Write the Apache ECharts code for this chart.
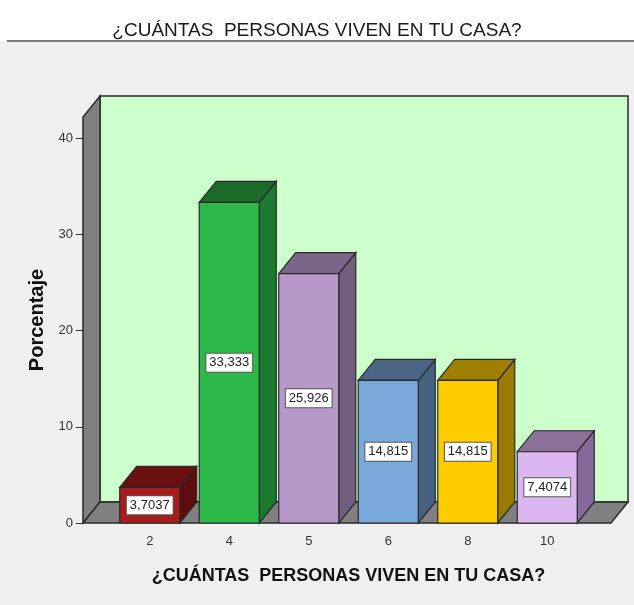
<!DOCTYPE html>
<html>
<head>
<meta charset="utf-8">
<script src="https://cdn.jsdelivr.net/npm/echarts@6/dist/echarts.min.js"></script>
<style>
  html, body { margin: 0; padding: 0; background: #fff; }
  #main { width: 634px; height: 605px; }
</style>
</head>
<body>
<div id="main"></div>
<script>
// datos
var categories = ["2", "4", "5", "6", "8", "10"];
var percentages = [3.7037, 33.333, 25.926, 14.815, 14.815, 7.4074];
var yTicks = [0, 10, 20, 30, 40];
var yMax = 42.2;

// colores de cada barra (frente, tapa, lateral)
var frontColors = ["#a81c1c", "#2db84a", "#b799c9", "#79a9d8", "#ffcc00", "#dcb7ef"];
var topColors = ["#6a1010", "#1c6b2b", "#7b6589", "#4a6684", "#9e7f00", "#8c7099"];
var sideColors = ["#5e0c0c", "#1f7a31", "#725f80", "#47627f", "#9a7b00", "#85699a"];

var DX = 17, DY = -21;      // profundidad 3D
var AXIS_OFFSET = 27;       // eje Y desplazado a la izquierda
var FLOOR_RIGHT = 24;       // suelo sobresale a la derecha
var EDGE = "#2a2a2a";

(function () {
  var myChart = echarts.init(document.getElementById("main"));

  var option = {
    backgroundColor: "#efefef",
    textStyle: { fontFamily: "Liberation Sans, Arial, sans-serif" },
    animation: false,
    title: {
      text: "¿CUÁNTAS  PERSONAS VIVEN EN TU CASA?",
      left: "center",
      top: 16,
      textStyle: { fontSize: 19, fontWeight: "normal", color: "#1a1a1a" }
    },
    graphic: [
      { type: "rect", z: -10, shape: { x: 0, y: 0, width: 634, height: 41 }, style: { fill: "#fff" } },
      { type: "line", z: -9, shape: { x1: 7, y1: 41, x2: 634, y2: 41 }, style: { stroke: "#7a7a7a", lineWidth: 2 } }
    ],
    grid: {
      left: 110,
      right: 47,
      top: 117,
      bottom: 82
    },
    xAxis: {
      type: "category",
      data: categories,
      name: "¿CUÁNTAS  PERSONAS VIVEN EN TU CASA?",
      nameLocation: "middle",
      nameGap: 44,
      nameTextStyle: { fontSize: 18, fontWeight: "bold", color: "#111" },
      axisLine: { show: false },
      axisTick: { alignWithLabel: true, length: 7, lineStyle: { color: "#333" } },
      axisLabel: { fontSize: 13, color: "#333", margin: 12 }
    },
    yAxis: {
      type: "value",
      min: 0,
      max: yMax,
      interval: 10,
      offset: AXIS_OFFSET,
      name: "Porcentaje",
      nameLocation: "middle",
      nameGap: 36,
      nameTextStyle: { fontSize: 20, fontWeight: "bold", color: "#111" },
      splitLine: { show: false },
      axisLine: { show: false },
      axisTick: { show: true, length: 7, customValues: yTicks, lineStyle: { color: "#333" } },
      axisLabel: { fontSize: 13, color: "#333", margin: 10, customValues: yTicks }
    },
    series: [
      {
        // paredes y suelo
        name: "marco",
        type: "custom",
        clip: false,
        silent: true,
        z: 1,
        data: [[0, 0]],
        renderItem: function (params, api) {
          var cs = params.coordSys;
          var left = cs.x - AXIS_OFFSET;
          var right = cs.x + cs.width + FLOOR_RIGHT;
          var y0 = api.coord([0, 0])[1];
          var yt = api.coord([0, yMax])[1];
          return {
            type: "group",
            children: [
              {
                type: "rect",
                shape: { x: left + DX, y: yt + DY, width: right - left, height: y0 - yt },
                style: { fill: "#ccffcc", stroke: EDGE, lineWidth: 1.5 }
              },
              {
                type: "polygon",
                shape: { points: [[left, y0], [left, yt], [left + DX, yt + DY], [left + DX, y0 + DY]] },
                style: { fill: "#808080", stroke: EDGE, lineWidth: 1.5 }
              },
              {
                type: "polygon",
                shape: { points: [[left, y0], [left + DX, y0 + DY], [right + DX, y0 + DY], [right, y0]] },
                style: { fill: "#808080", stroke: EDGE, lineWidth: 1.5 }
              }
            ]
          };
        }
      },
      {
        name: "Porcentaje",
        type: "custom",
        clip: false,
        z: 3,
        data: percentages.map(function (v, i) { return [i, v]; }),
        encode: { x: 0, y: 1 },
        renderItem: function (params, api) {
          var i = api.value(0);
          var v = api.value(1);
          var top = api.coord([i, v]);
          var base = api.coord([i, 0]);
          var mid = api.coord([i, v / 2]);
          var bw = api.size([1, 0])[0] * 0.755;
          var x0 = top[0] - bw / 2;
          var yt = top[1];
          var yb = base[1];
          return {
            type: "group",
            children: [
              {
                type: "polygon",
                shape: { points: [[x0 + bw, yt], [x0 + bw + DX, yt + DY], [x0 + bw + DX, yb + DY], [x0 + bw, yb]] },
                style: { fill: sideColors[i], stroke: EDGE, lineWidth: 1.2 }
              },
              {
                type: "polygon",
                shape: { points: [[x0, yt], [x0 + DX, yt + DY], [x0 + bw + DX, yt + DY], [x0 + bw, yt]] },
                style: { fill: topColors[i], stroke: EDGE, lineWidth: 1.2 }
              },
              {
                type: "rect",
                shape: { x: x0, y: yt, width: bw, height: yb - yt },
                style: { fill: frontColors[i], stroke: EDGE, lineWidth: 1.2 }
              },
              {
                type: "text",
                x: top[0],
                y: mid[1],
                style: {
                  text: String(v).replace(".", ","),
                  fontSize: 13,
                  fontFamily: "Liberation Sans, Arial, sans-serif",
                  fill: "#222",
                  align: "center",
                  verticalAlign: "middle",
                  backgroundColor: "#fff",
                  borderColor: "#555",
                  borderWidth: 1,
                  padding: [3, 3, 2, 3]
                }
              }
            ]
          };
        }
      }
    ]
  };

  myChart.setOption(option);
  window.addEventListener("resize", function () {
    myChart.resize();
  });
})();
</script>
</body>
</html>
